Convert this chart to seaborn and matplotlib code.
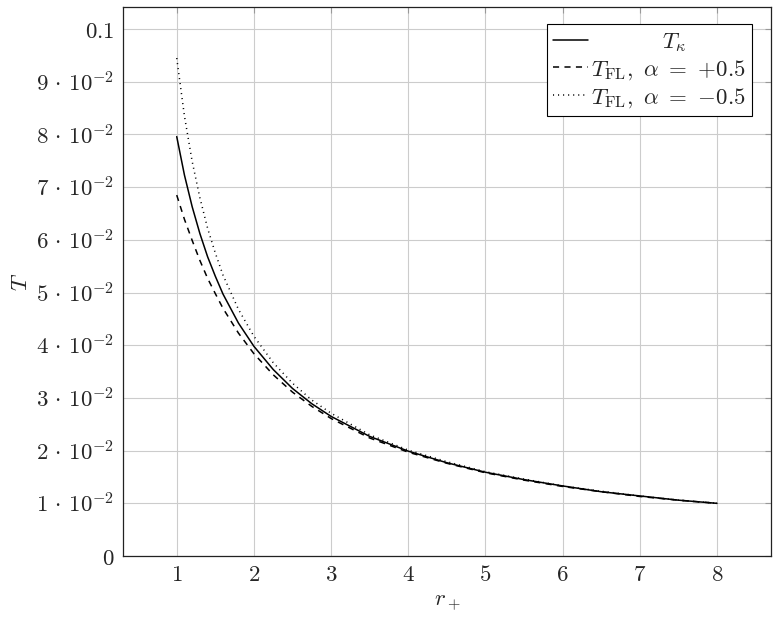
import numpy as np
import pandas as pd
import seaborn as sns
import matplotlib.pyplot as plt
from matplotlib.ticker import FixedLocator

# radius values and read-off temperatures
r_plus = [1.0, 1.1, 1.2, 1.3, 1.4, 1.5, 1.6, 1.8, 2.0, 2.25, 2.5, 2.75,
          3.0, 3.5, 4.0, 4.5, 5.0, 5.5, 6.0, 6.5, 7.0, 7.5, 8.0]
t_kappa = [0.0796, 0.0723, 0.0663, 0.0612, 0.0568, 0.0531, 0.0497, 0.0442,
           0.0398, 0.0354, 0.0318, 0.0289, 0.0265, 0.0227, 0.0199, 0.0177,
           0.0159, 0.0145, 0.0133, 0.0122, 0.0114, 0.0106, 0.0100]
t_fl_plus = [0.0685, 0.0639, 0.0599, 0.0561, 0.0527, 0.0498, 0.0470, 0.0423,
             0.0384, 0.0344, 0.0311, 0.0284, 0.0261, 0.0224, 0.0197, 0.0176,
             0.0158, 0.0144, 0.0132, 0.0122, 0.0113, 0.0106, 0.0100]
t_fl_minus = [0.0945, 0.0835, 0.0749, 0.0680, 0.0622, 0.0575, 0.0533, 0.0468,
              0.0417, 0.0367, 0.0328, 0.0296, 0.0271, 0.0230, 0.0201, 0.0179,
              0.0160, 0.0146, 0.0133, 0.0123, 0.0114, 0.0106, 0.0100]

x_ticks = [1, 2, 3, 4, 5, 6, 7, 8]
y_ticks = [0, 0.01, 0.02, 0.03, 0.04, 0.05, 0.06, 0.07, 0.08, 0.09, 0.1]
y_tick_labels = ["$0$"] + [r"$%d\,\cdot\,10^{-2}$" % i for i in range(1, 10)] + ["$0.1$"]

labels = [r"$\qquad\quad\;\;T_\kappa$",
          r"$T_{\mathrm{FL}},\ \alpha\ =$ $+0.5$",
          r"$T_{\mathrm{FL}},\ \alpha\ =$ $-0.5$"]

df = pd.DataFrame({"r": r_plus * 3,
                   "T": t_kappa + t_fl_plus + t_fl_minus,
                   "curve": [labels[0]] * len(r_plus) + [labels[1]] * len(r_plus) + [labels[2]] * len(r_plus)})

sns.set_theme(style="white")
plt.rcParams["mathtext.fontset"] = "cm"
plt.rcParams["font.family"] = ["DejaVu Serif"]
plt.rcParams["axes.unicode_minus"] = True

fs = 16.5

fig = plt.figure(figsize=(7.8, 6.18), dpi=100)
ax = fig.add_axes([0.1573, 0.1003, 0.8312, 0.8884])

sns.lineplot(data=df, x="r", y="T", hue="curve", style="curve",
             palette=["black"] * 3,
             dashes={labels[0]: "", labels[1]: (4, 3.5), labels[2]: (0.7, 2.6)},
             linewidth=1.1, ax=ax)

ax.set_xlim(0.3, 8.7)
ax.set_ylim(0, 0.1042)
ax.xaxis.set_major_locator(FixedLocator(x_ticks))
ax.set_xticklabels(["$%d$" % v for v in x_ticks])
ax.yaxis.set_major_locator(FixedLocator(y_ticks))
ax.set_yticklabels(y_tick_labels)
ax.grid(True, color="#cccccc", linewidth=0.8)
ax.set_axisbelow(True)
ax.tick_params(axis="both", direction="in", length=4, width=0.8, color="#999999",
               top=True, right=True, labelsize=fs, pad=6)
for s in ax.spines.values():
    s.set_color("#222222")
    s.set_linewidth(0.9)

ax.set_xlabel(r"$r_+$", fontsize=fs, labelpad=4)
ax.set_ylabel(r"$T$", fontsize=fs, labelpad=3)

leg = ax.legend(loc="upper right", bbox_to_anchor=(0.971, 0.969), borderaxespad=0,
                fontsize=fs, frameon=True, fancybox=False, edgecolor="black",
                framealpha=1, handlelength=1.5, handletextpad=0.12,
                borderpad=0.3, labelspacing=0.18)
leg.get_frame().set_linewidth(0.8)

fig.savefig("out.png", dpi=100)
